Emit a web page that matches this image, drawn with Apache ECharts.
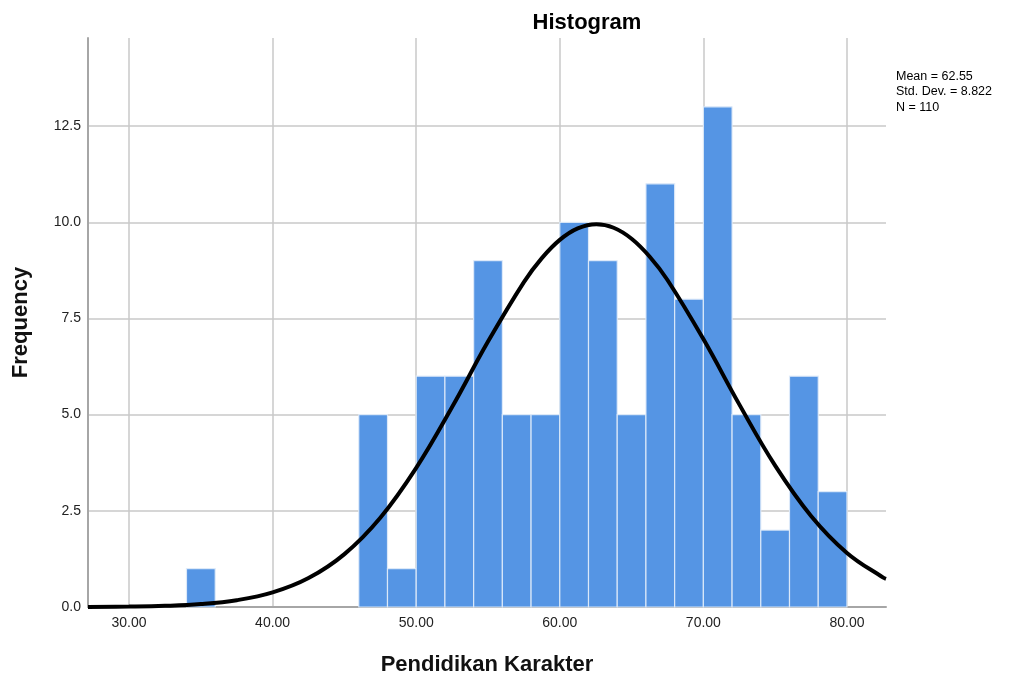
<!DOCTYPE html>
<html>
<head>
<meta charset="utf-8">
<script src="https://cdn.jsdelivr.net/npm/echarts@6/dist/echarts.min.js"></script>
<style>html,body{margin:0;padding:0;background:#fff}#c{width:1018px;height:677px}</style>
</head>
<body>
<div id="c"></div>
<script>
// Histogram bins (lower edge, upper edge) and frequencies
const binStart = [34, 46, 48, 50, 52, 54, 56, 58, 60, 62, 64, 66, 68, 70, 72, 74, 76, 78];
const binEnd   = [36, 48, 50, 52, 54, 56, 58, 60, 62, 64, 66, 68, 70, 72, 74, 76, 78, 80];
const freq     = [1, 5, 1, 6, 6, 9, 5, 5, 10, 9, 5, 11, 8, 13, 5, 2, 6, 3];
// Normal curve
const curveX = [27.14, 30, 32.5, 35, 37.5, 40, 42.5, 45, 47.5, 50, 52.5, 55, 57.5, 58.75, 60, 61.25, 62.55, 63.75, 65, 66.25, 67.5, 70, 72.5, 75, 77.5, 80, 82.5, 82.72];
const curveY = [0.003, 0.011, 0.03, 0.076, 0.177, 0.379, 0.752, 1.375, 2.321, 3.617, 5.199, 6.898, 8.446, 9.068, 9.542, 9.841, 9.949, 9.858, 9.573, 9.111, 8.5, 6.964, 5.267, 3.675, 2.367, 1.406, 0.771, 0.733];
const xTicks = [30, 40, 50, 60, 70, 80];
const yTicks = [0, 2.5, 5, 7.5, 10, 12.5];
const statLines = ['Mean = 62.55', 'Std. Dev. = 8.822', 'N = 110'];
const titleText = 'Histogram';
const xName = 'Pendidikan Karakter';
const yName = 'Frequency';

const chart = echarts.init(document.getElementById('c'), null, {renderer: 'canvas'});
const barData = binStart.map((s, i) => [s, binEnd[i], freq[i]]);
const curveData = curveX.map((x, i) => [x, curveY[i]]);

const option = {
  animation: false,
  backgroundColor: '#ffffff',
  title: {
    text: titleText, left: 582, top: 7, textAlign: 'center',
    textStyle: {fontFamily: 'Liberation Sans', fontSize: 22, fontWeight: 'bold', color: '#000'}
  },
  grid: {left: 88, right: 132, top: 38, bottom: 70, containLabel: false, outerBoundsMode: 'none'},
  xAxis: {
    type: 'value', min: 27.14, max: 82.72,
    name: xName, nameLocation: 'middle', nameGap: 47,
    nameTextStyle: {fontFamily: 'Liberation Sans', fontSize: 22, fontWeight: 'bold', color: '#111'},
    axisLine: {show: true, lineStyle: {color: '#a6a6a6', width: 2}},
    axisTick: {show: false, customValues: xTicks},
    axisLabel: {customValues: xTicks, formatter: v => v.toFixed(2), fontFamily: 'Liberation Sans', fontSize: 14, color: '#222', margin: 9},
    splitLine: {show: true, lineStyle: {color: '#c8c8c8', width: 1.5}}
  },
  yAxis: {
    type: 'value', min: 0, max: 14.79,
    name: yName, nameLocation: 'middle', nameGap: 56, nameRotate: 90,
    nameTextStyle: {fontFamily: 'Liberation Sans', fontSize: 22, fontWeight: 'bold', color: '#111'},
    axisLine: {show: true, lineStyle: {color: '#a6a6a6', width: 2}},
    axisTick: {show: false, customValues: yTicks},
    axisLabel: {customValues: yTicks, formatter: v => v.toFixed(1), fontFamily: 'Liberation Sans', fontSize: 14, color: '#222', margin: 7},
    splitLine: {show: true, lineStyle: {color: '#c8c8c8', width: 1.5}}
  },
  graphic: statLines.map((t, i) => ({
    type: 'text', left: 896, top: 70 + i * 15.5,
    style: {text: t, fontFamily: 'Liberation Sans', fontSize: 12.5, fill: '#000'}
  })),
  series: [
    {
      type: 'custom',
      data: barData,
      encode: {x: [0, 1], y: 2},
      renderItem: function (params, api) {
        const p0 = api.coord([api.value(0), api.value(2)]);
        const p1 = api.coord([api.value(1), 0]);
        return {
          type: 'rect',
          shape: {x: p0[0], y: p0[1], width: p1[0] - p0[0], height: p1[1] - p0[1]},
          style: {fill: '#5595e4', stroke: 'rgba(225,236,250,0.9)', lineWidth: 1.2}
        };
      },
      z: 2
    },
    {
      type: 'line',
      data: curveData,
      smooth: 0.4,
      showSymbol: false,
      lineStyle: {color: '#000', width: 4},
      z: 3
    }
  ]
};
chart.setOption(option);
</script>
</body>
</html>
